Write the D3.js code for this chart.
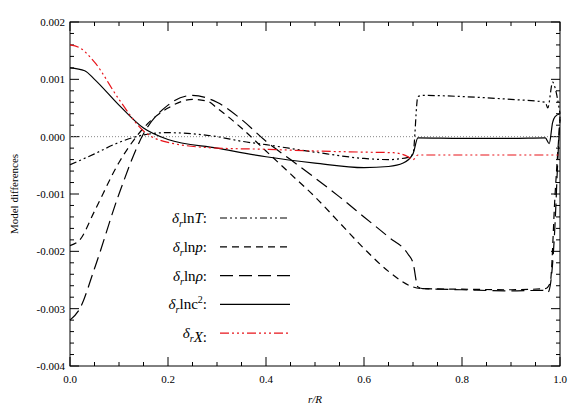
<!DOCTYPE html><html><head><meta charset="utf-8"><script src="https://cdn.jsdelivr.net/npm/d3@7"></script>
<style>body{margin:0;background:#fff}</style></head><body>
<svg id="c" width="581" height="415" font-family="'Liberation Serif', 'DejaVu Serif', serif"></svg>
<script>
const xTicks=[0,0.2,0.4,0.6,0.8,1.0];
const yTicks=[-0.004,-0.003,-0.002,-0.001,0,0.001,0.002];
const lnT=[[0,-0.49],[0.05,-0.3],[0.1,-0.1],[0.15,0.03],[0.2,0.07],[0.25,0.05],[0.3,0.0],[0.35,-0.08],[0.4,-0.14],[0.5,-0.27],[0.6,-0.38],[0.65,-0.4],[0.69,-0.36],[0.7,-0.3],[0.71,0.7],[0.72,0.72],[0.8,0.7],[0.9,0.65],[0.97,0.6],[0.975,0.5],[0.985,0.95],[0.99,0.85],[1.0,0.4]];
const lnp=[[0,-1.9],[0.02,-1.8],[0.05,-1.3],[0.1,-0.45],[0.15,0.15],[0.2,0.5],[0.25,0.65],[0.28,0.62],[0.3,0.5],[0.35,0.15],[0.4,-0.25],[0.45,-0.65],[0.5,-1.05],[0.55,-1.5],[0.6,-1.95],[0.65,-2.35],[0.7,-2.62],[0.72,-2.65],[0.8,-2.66],[0.9,-2.67],[0.97,-2.65],[0.98,-2.55],[0.99,-1.0],[1.0,0.3]];
const lnrho=[[0,-3.2],[0.02,-3.0],[0.05,-2.3],[0.1,-1.0],[0.15,0.05],[0.2,0.55],[0.25,0.72],[0.3,0.6],[0.35,0.3],[0.4,-0.08],[0.45,-0.4],[0.5,-0.72],[0.55,-1.05],[0.6,-1.4],[0.65,-1.75],[0.69,-2.05],[0.7,-2.2],[0.71,-2.62],[0.72,-2.65],[0.8,-2.67],[0.9,-2.69],[0.965,-2.68],[0.975,-2.72],[0.98,-2.6],[0.99,-1.5],[0.995,-0.5],[1.0,0.35]];
const c2=[[0,1.2],[0.03,1.15],[0.05,1.0],[0.1,0.55],[0.15,0.15],[0.2,-0.05],[0.3,-0.2],[0.4,-0.35],[0.5,-0.46],[0.6,-0.54],[0.65,-0.52],[0.68,-0.46],[0.7,-0.3],[0.71,-0.02],[0.8,-0.03],[0.9,-0.03],[0.97,-0.02],[0.978,-0.12],[0.985,0.25],[0.99,0.35],[1.0,0.4]];
const Xab=[[0,1.6],[0.02,1.55],[0.05,1.3],[0.1,0.65],[0.15,0.1],[0.2,-0.1],[0.3,-0.2],[0.4,-0.22],[0.5,-0.25],[0.6,-0.27],[0.66,-0.28],[0.69,-0.35],[0.7,-0.4],[0.71,-0.32],[0.8,-0.32],[0.9,-0.32],[1.0,-0.32]];
const series=[
 {data:lnT,color:"#000",dash:"7,3,2,3,2,3",m:["T",true]},
 {data:lnp,color:"#000",dash:"7,5",m:["p",true]},
 {data:lnrho,color:"#000",dash:"13,6",m:["ρ",true]},
 {data:c2,color:"#000",dash:null,m:["c",false,"2"]},
 {data:Xab,color:"#e8141b",dash:"9,3,2,3,2,3,2,3",m:["X",true],noln:true}];
const svg=d3.select("#c");
const L=70,R=560,T=22,B=366;
const x=d3.scaleLinear().domain([0,1]).range([L,R]);
const y=d3.scaleLinear().domain([-0.004,0.002]).range([B,T]);
svg.append("rect").attr("x",L).attr("y",T).attr("width",R-L).attr("height",B-T).attr("fill","none").attr("stroke","#000");
const g=svg.append("g");
d3.range(0,1.0001,0.05).forEach(v=>{const big=Math.abs(v*5-Math.round(v*5))<1e-6,l=big?9:4;
 g.append("line").attr("x1",x(v)).attr("x2",x(v)).attr("y1",B).attr("y2",B-l).attr("stroke","#000");
 g.append("line").attr("x1",x(v)).attr("x2",x(v)).attr("y1",T).attr("y2",T+l).attr("stroke","#000");});
d3.range(-0.004,0.00201,0.0002).forEach(v=>{const big=Math.abs(v*1000-Math.round(v*1000))<1e-6,l=big?9:4;
 g.append("line").attr("y1",y(v)).attr("y2",y(v)).attr("x1",L).attr("x2",L+l).attr("stroke","#000");
 g.append("line").attr("y1",y(v)).attr("y2",y(v)).attr("x1",R).attr("x2",R-l).attr("stroke","#000");});
xTicks.forEach(v=>g.append("text").attr("x",x(v)).attr("y",B+17).attr("text-anchor","middle").attr("font-size",11).text(v.toFixed(1)));
yTicks.forEach(v=>g.append("text").attr("x",L-5).attr("y",y(v)+4).attr("text-anchor","end").attr("font-size",11).text(v.toFixed(3)));
svg.append("text").attr("x",(L+R)/2).attr("y",403).attr("text-anchor","middle").attr("font-size",11).attr("font-style","italic").text("r/R");
svg.append("text").attr("transform",`translate(18,${(T+B)/2}) rotate(-90)`).attr("text-anchor","middle").attr("font-size",11).text("Model differences");
svg.append("line").attr("x1",L).attr("x2",R).attr("y1",y(0)).attr("y2",y(0)).attr("stroke","#888").attr("stroke-dasharray","1,2");
const line=d3.line().x(d=>x(d[0])).y(d=>y(d[1]*1e-3)).curve(d3.curveMonotoneX);
series.forEach((s,i)=>{
 svg.append("path").attr("d",line(s.data)).attr("fill","none").attr("stroke",s.color).attr("stroke-width",1.2).attr("stroke-dasharray",s.dash);
 const ly=218+i*28.8;
 svg.append("line").attr("x1",220).attr("x2",290).attr("y1",ly).attr("y2",ly).attr("stroke",s.color).attr("stroke-width",1.2).attr("stroke-dasharray",s.dash);
 const t=svg.append("text").attr("x",207).attr("y",ly+5).attr("text-anchor","end").attr("font-size",15);
 t.append("tspan").attr("font-style","italic").text("δ");
 t.append("tspan").attr("font-size",10).attr("dy",4).attr("font-style","italic").text("r");
 t.append("tspan").attr("dy",-4).text(s.noln?"":"ln");
 t.append("tspan").attr("font-style",s.m[1]?"italic":"normal").text(s.m[0]);
 if(s.m[2]){t.append("tspan").attr("font-size",10).attr("dy",-6).text(s.m[2]);t.append("tspan").attr("dy",6).text(":");}
 else t.append("tspan").text(":");
});
</script></body></html>
